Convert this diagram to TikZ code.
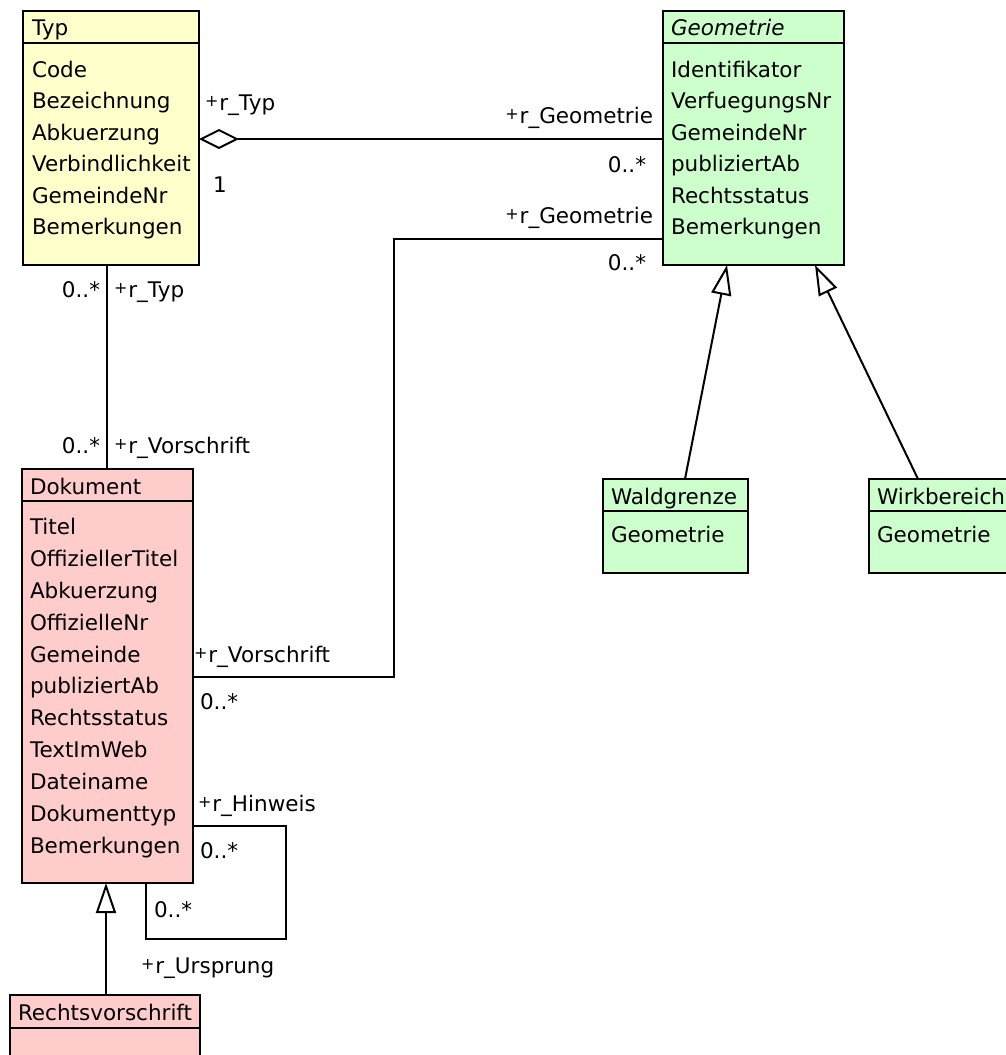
\documentclass[tikz,border=0pt]{standalone}
\usepackage{fontspec}
\setmainfont{DejaVu Sans}
\usetikzlibrary{arrows.meta}
\definecolor{typyellow}{HTML}{FFFFCC}
\definecolor{geogreen}{HTML}{CCFFCC}
\definecolor{dokpink}{HTML}{FFCCCC}
\newcommand{\pl}{\raisebox{4pt}{\fontsize{16}{16}\selectfont+}\hspace{1pt}}
\tikzset{
  umlbox/.style={draw, line width=2pt, anchor=north west, inner sep=0pt, outer sep=0pt},
  txt/.style={inner sep=0pt, outer sep=0pt, anchor=base west, font=\fontsize{21.5}{25}\selectfont},
  txtr/.style={txt, anchor=base east},
  conn/.style={line width=2pt},
  gen/.style={conn, -{Triangle[open, length=30pt, width=20pt, line width=2pt]}},
  agg/.style={conn, {Diamond[open, length=40pt, width=20pt, line width=2pt]}-},
  sepline/.style={line width=2pt}
}
\begin{document}
\begin{tikzpicture}[x=1pt,y=-1pt]
\useasboundingbox (0,0) rectangle (1006,1055);
% ---- boxes ----
\node[umlbox, fill=typyellow, minimum width=176pt, minimum height=254pt] (typ) at (23,11) {};
\node[umlbox, fill=geogreen, minimum width=181pt, minimum height=254pt] (geo) at (663,11) {};
\node[umlbox, fill=dokpink, minimum width=171pt, minimum height=414pt] (dok) at (22,469) {};
\node[umlbox, fill=dokpink, minimum width=190pt, minimum height=70pt] (rv) at (10,995) {};
\node[umlbox, fill=geogreen, minimum width=145pt, minimum height=94pt] (wald) at (603,479) {};
\node[umlbox, fill=geogreen, minimum width=145pt, minimum height=94pt] (wirk) at (869,479) {};
% header separators
\draw[sepline] ([yshift=-32pt]typ.north west) -- ([yshift=-32pt]typ.north east);
\draw[sepline] ([yshift=-32pt]geo.north west) -- ([yshift=-32pt]geo.north east);
\draw[sepline] ([yshift=-32pt]dok.north west) -- ([yshift=-32pt]dok.north east);
\draw[sepline] ([yshift=-33pt]rv.north west) -- ([yshift=-33pt]rv.north east);
\draw[sepline] ([yshift=-32pt]wald.north west) -- ([yshift=-32pt]wald.north east);
\draw[sepline] ([yshift=-32pt]wirk.north west) -- ([yshift=-32pt]wirk.north east);
% ---- Typ texts ----
\node[txt] (typh) at (32,35) {Typ};
\node[txt] (typ1) at (32,77) {Code};
\node[txt] (typ2) at (32,108.5) {Bezeichnung};
\node[txt] (typ3) at (32,140) {Abkuerzung};
\node[txt] (typ4) at (32,171.5) {Verbindlichkeit};
\node[txt] (typ5) at (32,203) {GemeindeNr};
\node[txt] (typ6) at (32,234.5) {Bemerkungen};
% ---- Geometrie texts ----
\node[txt, font=\fontsize{21.5}{25}\selectfont\itshape] (geoh) at (671,35) {Geometrie};
\node[txt] (geo1) at (671,77) {Identifikator};
\node[txt] (geo2) at (671,108.5) {VerfuegungsNr};
\node[txt] (geo3) at (671,140) {GemeindeNr};
\node[txt] (geo4) at (671,171.5) {publiziertAb};
\node[txt] (geo5) at (671,203) {Rechtsstatus};
\node[txt] (geo6) at (671,234.5) {Bemerkungen};
% ---- Dokument texts ----
\node[txt] (dokh) at (30,494) {Dokument};
\node[txt] (dok1) at (30,534) {Titel};
\node[txt] (dok2) at (30,566) {OffiziellerTitel};
\node[txt] (dok3) at (30,598) {Abkuerzung};
\node[txt] (dok4) at (30,630) {OffizielleNr};
\node[txt] (dok5) at (30,662) {Gemeinde};
\node[txt] (dok6) at (30,693.5) {publiziertAb};
\node[txt] (dok7) at (30,725.5) {Rechtsstatus};
\node[txt] (dok8) at (30,757.5) {TextImWeb};
\node[txt] (dok9) at (30,789.5) {Dateiname};
\node[txt] (dok10) at (30,821.5) {Dokumenttyp};
\node[txt] (dok11) at (30,853.5) {Bemerkungen};
% ---- other boxes ----
\node[txt] (rvh) at (18,1020) {Rechtsvorschrift};
\node[txt] (waldh) at (611,504) {Waldgrenze};
\node[txt] (wald1) at (611,542) {Geometrie};
\node[txt] (wirkh) at (877,504) {Wirkbereich};
\node[txt] (wirk1) at (877,542) {Geometrie};
% ---- helper coordinates ----
\coordinate (yagg) at (0,139);
\coordinate (ygeo2) at (0,239);
\coordinate (ydok) at (0,677);
\coordinate (xbend) at (394,0);
\coordinate (xtd) at (107,0);
\coordinate (yself) at (0,826);
\coordinate (xselfr) at (286,0);
\coordinate (yselfb) at (0,939);
\coordinate (xselfl) at (146,0);
\coordinate (xrv) at (106,0);
% ---- connectors ----
\draw[agg] (typ.east |- yagg) -- (geo.west |- yagg);
\draw[conn] (geo.west |- ygeo2) -- (xbend |- ygeo2) -- (xbend |- ydok) -- (dok.east |- ydok);
\draw[conn] (typ.south -| xtd) -- (dok.north -| xtd);
\draw[conn] (dok.east |- yself) -- (xselfr |- yself) -- (xselfr |- yselfb) -- (xselfl |- yselfb) -- (dok.south -| xselfl);
\draw[gen] (rv.north -| xrv) -- (dok.south -| xrv);
\coordinate (waldtop) at (685,479);
\coordinate (geoleft) at (727,265);
\coordinate (wirktop) at (918,479);
\coordinate (georight) at (815,265);
\draw[gen] (waldtop) -- (geoleft);
\draw[gen] (wirktop) -- (georight);
% ---- role labels ----
\node[txt] (l1) at (205,110) {\pl r\_Typ};
\node[txt] (l2) at (213,192) {1};
\node[txtr] (l3) at (653,123) {\pl r\_Geometrie};
\node[txtr] (l4) at (646,172) {0..*};
\node[txtr] (l5) at (653,223) {\pl r\_Geometrie};
\node[txtr] (l6) at (646,270) {0..*};
\node[txtr] (l7) at (100,297) {0..*};
\node[txt] (l8) at (114,297) {\pl r\_Typ};
\node[txtr] (l9) at (100,453) {0..*};
\node[txt] (l10) at (114,453) {\pl r\_Vorschrift};
\node[txt] (l11) at (194,662) {\pl r\_Vorschrift};
\node[txt] (l12) at (200,709) {0..*};
\node[txt] (l13) at (198,811) {\pl r\_Hinweis};
\node[txt] (l14) at (200,858) {0..*};
\node[txt] (l15) at (154,917) {0..*};
\node[txt] (l16) at (141,973) {\pl r\_Ursprung};
\end{tikzpicture}
\end{document}
